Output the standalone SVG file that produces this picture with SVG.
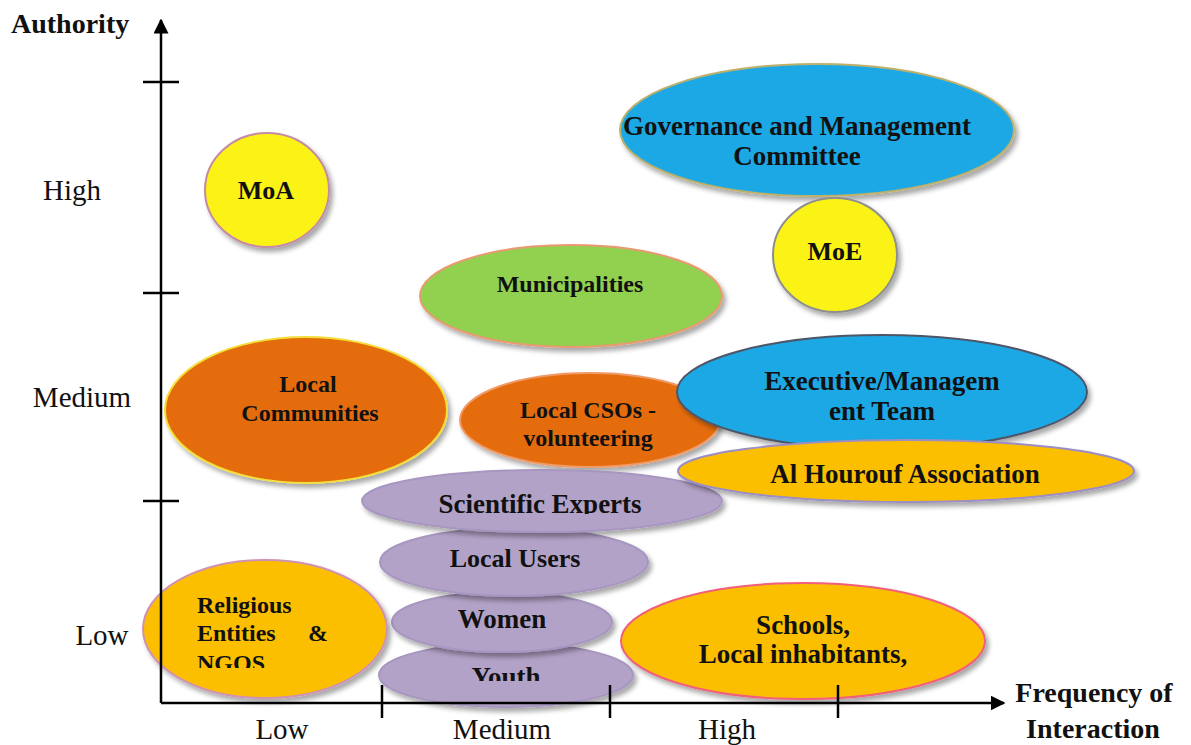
<svg xmlns="http://www.w3.org/2000/svg" width="1191" height="745" viewBox="0 0 1191 745">
  <defs>
    <filter id="shadow" x="-10%" y="-10%" width="125%" height="130%">
      <feGaussianBlur in="SourceAlpha" stdDeviation="2.5"/>
      <feOffset dx="3" dy="4" result="blur"/>
      <feComponentTransfer><feFuncA type="linear" slope="0.35"/></feComponentTransfer>
      <feMerge><feMergeNode/><feMergeNode in="SourceGraphic"/></feMerge>
    </filter>
    <marker id="arrow" viewBox="0 0 10 10" refX="9" refY="5" markerWidth="6" markerHeight="6" orient="auto" markerUnits="strokeWidth">
      <path d="M0,0 L10,5 L0,10 z" fill="#000"/>
    </marker>
    <clipPath id="clipSci"><rect x="400" y="470" width="300" height="44"/></clipPath>
    <clipPath id="clipYouth"><rect x="400" y="640" width="200" height="41"/></clipPath>
    <clipPath id="clipNgos"><rect x="180" y="640" width="100" height="28"/></clipPath>
    <style>
      .node { filter: url(#shadow); stroke-width: 2; }
      .blue { fill: #1fa8e4; }
      .yellow { fill: #fbf317; }
      .orange { fill: #e46c0a; }
      .green { fill: #92d050; }
      .lav { fill: #b3a2c7; stroke: #a796c0; }
      .gold { fill: #fcbf05; }
      .lbl { font-family: "Liberation Serif", "Times New Roman", serif; font-weight: bold; fill: #111; text-anchor: middle; }
      .lbl-left { text-anchor: start; }
      .axis-t { font-family: "Liberation Serif", "Times New Roman", serif; fill: #111; text-anchor: middle; }
      .axis-title { font-family: "Liberation Serif", "Times New Roman", serif; font-weight: bold; fill: #111; }
      .axis { stroke: #000; stroke-width: 2.5; fill: none; }
    </style>
  </defs>
  <rect width="1191" height="745" fill="#ffffff"/>

  <!-- stakeholder bubbles -->
  <g id="moa">
    <ellipse class="node yellow" cx="267" cy="190" rx="62" ry="57" stroke="#c58aa4"/>
    <text class="lbl" x="266" y="199" font-size="26">MoA</text>
  </g>
  <g id="governance">
    <ellipse class="node blue" cx="817" cy="130" rx="197" ry="66" stroke="#bdb06a"/>
    <text class="lbl" x="797" y="135" font-size="27">Governance and Management</text>
    <text class="lbl" x="797" y="165" font-size="27">Committee</text>
  </g>
  <g id="moe">
    <ellipse class="node yellow" cx="835" cy="255" rx="62" ry="57" stroke="#8e8e8e"/>
    <text class="lbl" x="835" y="260" font-size="26">MoE</text>
  </g>
  <g id="municipalities">
    <ellipse class="node green" cx="571" cy="296" rx="151" ry="51" stroke="#e89a70"/>
    <text class="lbl" x="570" y="292" font-size="24">Municipalities</text>
  </g>
  <g id="local-communities">
    <ellipse class="node orange" cx="306" cy="410" rx="141" ry="73" stroke="#f3df3a"/>
    <text class="lbl" x="308" y="392" font-size="24">Local</text>
    <text class="lbl" x="310" y="421" font-size="24">Communities</text>
  </g>
  <g id="local-csos">
    <ellipse class="node orange" cx="590" cy="420" rx="130" ry="47" stroke="#f09a68"/>
    <text class="lbl" x="588" y="418" font-size="24">Local CSOs -</text>
    <text class="lbl" x="588" y="446" font-size="24">volunteering</text>
  </g>
  <g id="executive">
    <ellipse class="node blue" cx="882" cy="392" rx="205" ry="57" stroke="#4e5668"/>
    <text class="lbl" x="882" y="390" font-size="27">Executive/Managem</text>
    <text class="lbl" x="882" y="420" font-size="27">ent Team</text>
  </g>
  <g id="youth">
    <ellipse class="node lav" cx="506" cy="675" rx="127" ry="32"/>
    <text class="lbl" x="506" y="686" font-size="27" clip-path="url(#clipYouth)">Youth</text>
  </g>
  <g id="women">
    <ellipse class="node lav" cx="502" cy="622" rx="110" ry="30"/>
    <text class="lbl" x="502" y="628" font-size="27">Women</text>
  </g>
  <g id="local-users">
    <ellipse class="node lav" cx="514" cy="562" rx="134" ry="34"/>
    <text class="lbl" x="515" y="567" font-size="26">Local Users</text>
  </g>
  <g id="scientific-experts">
    <ellipse class="node lav" cx="542" cy="501" rx="180" ry="31"/>
    <text class="lbl" x="540" y="513" font-size="27" clip-path="url(#clipSci)">Scientific Experts</text>
  </g>
  <g id="al-hourouf">
    <ellipse class="node gold" cx="906" cy="471" rx="228" ry="31" stroke="#9c8ec2"/>
    <text class="lbl" x="905" y="483" font-size="27">Al Hourouf Association</text>
  </g>
  <g id="religious">
    <ellipse class="node gold" cx="265" cy="629" rx="122" ry="69" stroke="#cf92b2"/>
    <text class="lbl lbl-left" x="197" y="613" font-size="24">Religious</text>
    <text class="lbl lbl-left" x="197" y="641" font-size="24">Entities</text>
    <text class="lbl lbl-left" x="308" y="641" font-size="24">&amp;</text>
    <text class="lbl lbl-left" x="197" y="671" font-size="24" clip-path="url(#clipNgos)">NGOS</text>
  </g>
  <g id="schools">
    <ellipse class="node gold" cx="803" cy="641" rx="182" ry="58" stroke="#f0607a"/>
    <text class="lbl" x="803" y="634" font-size="27">Schools,</text>
    <text class="lbl" x="803" y="663" font-size="27">Local inhabitants,</text>
  </g>

  <!-- axes, ticks and arrowheads -->
  <g id="connectors">
    <line class="axis" x1="161" y1="703" x2="161" y2="20" marker-end="url(#arrow)"/>
    <line class="axis" x1="161" y1="703" x2="1004" y2="703" marker-end="url(#arrow)"/>
    <line class="axis" x1="143" y1="82" x2="179" y2="82"/>
    <line class="axis" x1="143" y1="293" x2="179" y2="293"/>
    <line class="axis" x1="143" y1="501" x2="179" y2="501"/>
    <line class="axis" x1="382" y1="685" x2="382" y2="718"/>
    <line class="axis" x1="610" y1="685" x2="610" y2="718"/>
    <line class="axis" x1="838" y1="685" x2="838" y2="718"/>
  </g>

  <!-- axis labels -->
  <g id="axis-labels">
    <text class="axis-title" x="11" y="33" font-size="28">Authority</text>
    <text class="axis-t" x="72" y="200" font-size="29">High</text>
    <text class="axis-t" x="82" y="407" font-size="29">Medium</text>
    <text class="axis-t" x="102" y="645" font-size="29">Low</text>
    <text class="axis-t" x="282" y="739" font-size="29">Low</text>
    <text class="axis-t" x="502" y="739" font-size="29">Medium</text>
    <text class="axis-t" x="727" y="739" font-size="29">High</text>
    <text class="axis-title" x="1094" y="702" font-size="28" text-anchor="middle">Frequency of</text>
    <text class="axis-title" x="1093" y="738" font-size="28" text-anchor="middle">Interaction</text>
  </g>
</svg>
